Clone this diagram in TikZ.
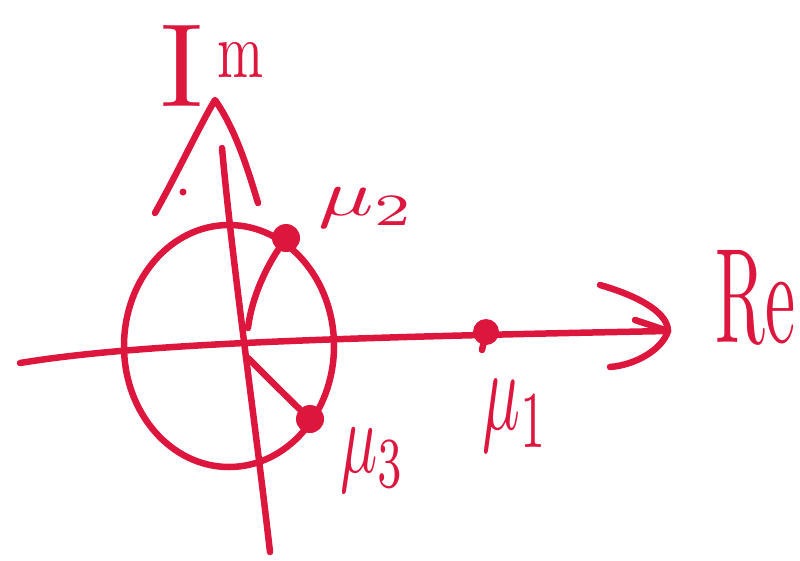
\documentclass[tikz,border=0pt]{standalone}
\usepackage{graphicx}
\definecolor{ink}{RGB}{221,22,62}
\begin{document}
\begin{tikzpicture}[x=1pt,y=-1pt, line cap=round, line join=round,
  pen/.style={draw=ink, line width=6.5pt},
  dotmark/.style={circle, fill=ink, inner sep=0pt, minimum size=28pt},
  lbl/.style={text=ink, inner sep=0pt}]
\useasboundingbox (0,0) rectangle (800,560);

% real axis
\coordinate (reS) at (20,363);
\coordinate (reE) at (668,331);
\coordinate (ra1) at (600,285);
\coordinate (ra2) at (610,367);
\coordinate (ra3) at (635,320);
\draw[pen] (reS) .. controls (130,345) and (300,338) .. (reE);
\draw[pen] (ra1) .. controls (645,298) and (668,315) .. (reE) .. controls (662,350) and (635,365) .. (ra2);
\draw[pen] (ra3) -- (reE);

% imaginary axis
\coordinate (imS) at (270,552);
\coordinate (imE) at (222,148);
\coordinate (ia1) at (155,213);
\coordinate (iaT) at (215,100);
\coordinate (ia2) at (258,203);
\draw[pen] (imS) .. controls (255,420) and (232,260) .. (imE);
\draw[pen] (ia1) .. controls (178,172) and (200,125) .. (iaT) .. controls (236,130) and (248,170) .. (ia2);
\fill[ink] (183,192) circle (3.5pt);

% circle
\draw[pen] (229,346) ellipse [x radius=105, y radius=121];

% points
\node[dotmark] (m2) at (286,238) {};
\node[dotmark] (m3) at (310,419) {};
\node[dotmark, minimum size=26pt] (m1) at (486,332) {};
\coordinate (m2s) at (248,328);
\coordinate (m3s) at (248,358);
\coordinate (m1t) at (482,350);
\draw[pen] (m2s) .. controls (252,295) and (268,265) .. (m2);
\draw[pen] (m3s) .. controls (262,372) and (290,400) .. (m3);
\draw[pen] (m1) -- (m1t);

% labels
\node[lbl, anchor=north west] (l2) at (318,188) {\resizebox*{97pt}{40pt}{$\mu_2$}};
\node[lbl, anchor=north west] (l1) at (482,380) {\resizebox*{66pt}{72pt}{$\mu_1$}};
\node[lbl, anchor=north west] (l3) at (340,428) {\resizebox*{65pt}{64pt}{$\mu_3$}};
\node[lbl, anchor=north west] (lre) at (715,250) {\resizebox*{80pt}{95pt}{Re}};
\node[lbl, anchor=south west] (lim) at (160,107) {\resizebox*{!}{81pt}{I}\hspace{14pt}\raisebox{29pt}{\resizebox*{46pt}{35pt}{m}}};
\end{tikzpicture}
\end{document}
